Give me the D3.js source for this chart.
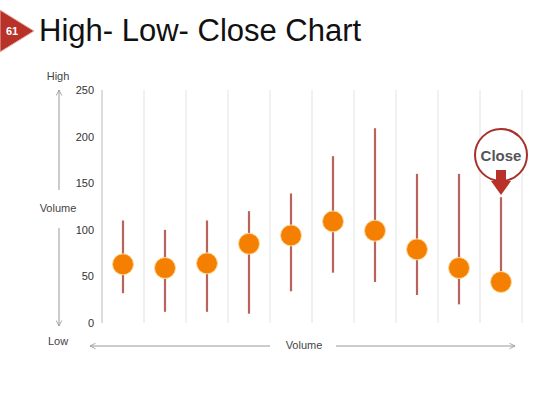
<!DOCTYPE html><html><head><meta charset="utf-8">
<script src="https://cdn.jsdelivr.net/npm/d3@7"></script>
<style>body{margin:0;background:#fff}svg{font-family:Arial,"Liberation Sans",sans-serif}</style></head><body>
<svg id="c" width="560" height="420"></svg>
<script>
const categories=["1","2","3","4","5","6","7","8","9","10"];
const highValues=[110,100,110,120,139,179,209,160,160,135];
const lowValues=[32,12,12,10,34,54,44,30,20,44];
const closeValues=[63,59,64,85,94,109,99,79,59,44];
const yTicks=[0,50,100,150,200,250];

const svg=d3.select("#c");
const defs=svg.append("defs");
defs.append("marker").attr("id","ah").attr("viewBox","0 0 10 10").attr("refX",9).attr("refY",5)
 .attr("markerWidth",7).attr("markerHeight",7).attr("orient","auto-start-reverse")
 .append("path").attr("d","M1,1L9,5L1,9").attr("fill","none").attr("stroke","#999").attr("stroke-width",1.2);

// badge
svg.append("path").attr("d","M0,10 L34,31 L0,52 Z").attr("fill","#b8322a").attr("stroke","#e8b0a8").attr("stroke-width",1);
svg.append("text").attr("x",12).attr("y",35).attr("font-size",11).attr("font-weight","bold").attr("fill","#fff").attr("text-anchor","middle").text("61");
svg.append("text").attr("x",39).attr("y",41).attr("font-size",31).attr("fill","#111").text("High- Low- Close Chart");

const x=d3.scaleBand().domain(categories).range([102,522]);
const y=d3.scaleLinear().domain([0,250]).range([323,90]);

const g=svg.append("g");
const bounds=categories.map(c=>x(c)).concat([522]);
g.selectAll("line.gv").data(bounds).join("line").attr("x1",d=>d).attr("x2",d=>d)
 .attr("y1",y(250)).attr("y2",y(0)).attr("stroke",(d,i)=>i===0?"#bbb":"#e2e2e2").attr("stroke-width",1);
svg.append("g").attr("transform","translate(102,0)")
 .call(d3.axisLeft(y).tickValues(yTicks).tickSize(0).tickPadding(8))
 .call(s=>s.select(".domain").remove())
 .call(s=>s.selectAll("text").attr("font-size",11).attr("fill","#333").attr("font-family","Arial,'Liberation Sans',sans-serif"));

const bw=x.bandwidth()/2;
g.selectAll("line.hl").data(categories).join("line")
 .attr("x1",(d)=>x(d)+bw).attr("x2",d=>x(d)+bw)
 .attr("y1",(d,i)=>y(highValues[i])).attr("y2",(d,i)=>y(lowValues[i]))
 .attr("stroke","#b8645c").attr("stroke-width",2.2);
g.selectAll("circle.cl").data(categories).join("circle")
 .attr("cx",d=>x(d)+bw).attr("cy",(d,i)=>y(closeValues[i])).attr("r",10.5)
 .attr("fill","#f57f00").attr("stroke","#fbd89a").attr("stroke-width",1);

const cx=x("10")+bw;
svg.append("circle").attr("cx",cx).attr("cy",155).attr("r",26).attr("fill","#fff").attr("stroke","#a7302a").attr("stroke-width",2);
svg.append("text").attr("x",cx).attr("y",161).attr("text-anchor","middle").attr("font-size",15).attr("font-weight","bold").attr("fill","#555").text("Close");
svg.append("path").attr("d",`M${cx-5},170 L${cx+5},170 L${cx+5},181 L${cx+10},181 L${cx},195 L${cx-10},181 L${cx-5},181 Z`).attr("fill","#b8322a");

const lab=(t,xx,yy)=>svg.append("text").attr("x",xx).attr("y",yy).attr("text-anchor","middle").attr("font-size",11).attr("fill","#444").text(t);
lab("High",58,80); lab("Volume",58,212); lab("Low",58,345); lab("Volume",304,349);
const arr=(x1,y1,x2,y2)=>svg.append("line").attr("x1",x1).attr("y1",y1).attr("x2",x2).attr("y2",y2).attr("stroke","#999").attr("stroke-width",1).attr("marker-end","url(#ah)");
arr(59,190,59,90); arr(59,228,59,326); arr(270,346,90,346); arr(336,346,515,346);
</script></body></html>
